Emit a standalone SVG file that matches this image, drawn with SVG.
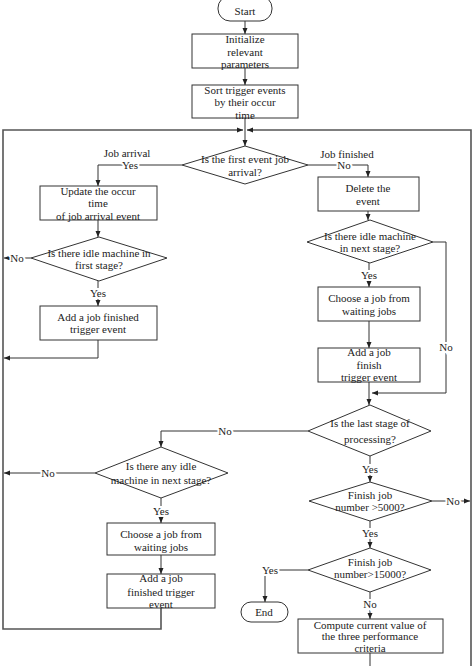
<svg xmlns="http://www.w3.org/2000/svg" width="474" height="666" viewBox="0 0 474 666">
<style>
.b{fill:#fff;stroke:#333;stroke-width:1}
.t{font-family:"Liberation Serif","Times New Roman",serif;font-size:11px;fill:#222;text-anchor:middle}
.l{font-family:"Liberation Serif","Times New Roman",serif;font-size:11px;fill:#222;text-anchor:middle;stroke:#fff;stroke-width:4;paint-order:stroke}
.c{fill:none;stroke:#333;stroke-width:1}
.g{fill:none;stroke:#555;stroke-width:1.6}
</style>
<defs>
<marker id="a" viewBox="0 0 6 6" refX="6" refY="3" markerWidth="6" markerHeight="6" markerUnits="userSpaceOnUse" orient="auto">
<path d="M0,0.5 L6,3 L0,5.5 Z" fill="#222"/>
</marker>
</defs>
<rect width="474" height="666" fill="#fff"/>
<g id="connectors">
<path class="c" d="M245,21 V34" marker-end="url(#a)"/>
<path class="c" d="M245,68 V85" marker-end="url(#a)"/>
<path class="c" d="M245,118 V146" marker-end="url(#a)"/>
<path class="g" d="M161,608 V629 H3 V130 H243" marker-end="url(#a)"/>
<path class="g" d="M471,666 V130 H247" marker-end="url(#a)"/>
<path class="c" d="M370,653 V666"/>
<path class="c" d="M182,165 H98 V186" marker-end="url(#a)"/>
<path class="c" d="M98,220 V237" marker-end="url(#a)"/>
<path class="c" d="M31,258 H4" marker-end="url(#a)"/>
<path class="c" d="M98,281 V306" marker-end="url(#a)"/>
<path class="c" d="M98,340 V358 H4" marker-end="url(#a)"/>
<path class="c" d="M308,165 H368 V177" marker-end="url(#a)"/>
<path class="c" d="M368,211 V220" marker-end="url(#a)"/>
<path class="c" d="M433,242 H446 V393 H372" marker-end="url(#a)"/>
<path class="c" d="M369,263 V287" marker-end="url(#a)"/>
<path class="c" d="M369,321 V348" marker-end="url(#a)"/>
<path class="c" d="M369,382 V405" marker-end="url(#a)"/>
<path class="c" d="M308,431 H161 V447" marker-end="url(#a)"/>
<path class="c" d="M95,473 H4" marker-end="url(#a)"/>
<path class="c" d="M161,498 V523" marker-end="url(#a)"/>
<path class="c" d="M161,555 V574" marker-end="url(#a)"/>
<path class="c" d="M370,456 V482" marker-end="url(#a)"/>
<path class="c" d="M432,501 H470" marker-end="url(#a)"/>
<path class="c" d="M370,521 V548" marker-end="url(#a)"/>
<path class="c" d="M308,570 H265 V602" marker-end="url(#a)"/>
<path class="c" d="M370,592 V619" marker-end="url(#a)"/>
<text class="l" x="127" y="157">Job arrival</text>
<text class="l" x="130" y="169">Yes</text>
<text class="l" x="17" y="262">No</text>
<text class="l" x="98" y="297">Yes</text>
<text class="l" x="347" y="158">Job finished</text>
<text class="l" x="344" y="169">No</text>
<text class="l" x="369" y="279">Yes</text>
<text class="l" x="446" y="351">No</text>
<text class="l" x="225" y="435">No</text>
<text class="l" x="48" y="477">No</text>
<text class="l" x="161" y="515">Yes</text>
<text class="l" x="370" y="473">Yes</text>
<text class="l" x="453" y="505">No</text>
<text class="l" x="370" y="537">Yes</text>
<text class="l" x="270" y="574">Yes</text>
<text class="l" x="370" y="608">No</text>
</g>
<g id="start"><rect class="b" x="218" y="-4" width="54" height="25" rx="12"/><text class="t" x="245" y="15">Start</text></g>
<g id="init"><rect class="b" x="192" y="34" width="106" height="34"/><text class="t" x="245" y="43">Initialize</text><text class="t" x="245" y="56">relevant</text><text class="t" x="245" y="68">parameters</text></g>
<g id="sort"><rect class="b" x="192" y="85" width="106" height="33"/><text class="t" x="245" y="94">Sort trigger events</text><text class="t" x="245" y="106">by their occur</text><text class="t" x="245" y="119">time</text></g>
<g id="d1"><polygon class="b" points="245,146 308,165 245,184 182,165"/><text class="t" x="245" y="163">Is the first event job</text><text class="t" x="245" y="176">arrival?</text></g>
<g id="update"><rect class="b" x="40" y="186" width="117" height="34"/><text class="t" x="98" y="195">Update the occur</text><text class="t" x="98" y="207">time</text><text class="t" x="98" y="220">of job arrival event</text></g>
<g id="d2"><polygon class="b" points="99,237 167,258 99,281 31,258"/><text class="t" x="99" y="257">Is there idle machine in</text><text class="t" x="99" y="269">first stage?</text></g>
<g id="add1"><rect class="b" x="40" y="306" width="117" height="34"/><text class="t" x="98" y="321">Add a job finished</text><text class="t" x="98" y="333">trigger event</text></g>
<g id="delete"><rect class="b" x="318" y="177" width="101" height="34"/><text class="t" x="368" y="192">Delete the</text><text class="t" x="368" y="205">event</text></g>
<g id="d3"><polygon class="b" points="370,220 433,242 370,263 307,242"/><text class="t" x="370" y="240">Is there idle machine</text><text class="t" x="370" y="252">in next stage?</text></g>
<g id="choose1"><rect class="b" x="318" y="287" width="102" height="34"/><text class="t" x="369" y="302">Choose a job from</text><text class="t" x="369" y="315">waiting jobs</text></g>
<g id="add2"><rect class="b" x="318" y="348" width="102" height="34"/><text class="t" x="369" y="356">Add a job</text><text class="t" x="369" y="369">finish</text><text class="t" x="369" y="381">trigger event</text></g>
<g id="d4"><polygon class="b" points="370,405 431,431 370,456 308,431"/><text class="t" x="370" y="427">Is the last stage of</text><text class="t" x="370" y="443">processing?</text></g>
<g id="d5"><polygon class="b" points="161,447 228,473 161,498 95,473"/><text class="t" x="161" y="470">Is there any idle</text><text class="t" x="161" y="484">machine in next stage?</text></g>
<g id="choose2"><rect class="b" x="107" y="523" width="108" height="32"/><text class="t" x="161" y="538">Choose a job from</text><text class="t" x="161" y="551">waiting jobs</text></g>
<g id="add3"><rect class="b" x="107" y="574" width="108" height="34"/><text class="t" x="161" y="582">Add a job</text><text class="t" x="161" y="596">finished trigger</text><text class="t" x="161" y="608">event</text></g>
<g id="d6"><polygon class="b" points="370,482 432,501 370,521 309,501"/><text class="t" x="370" y="499">Finish job</text><text class="t" x="370" y="511">number &gt;5000?</text></g>
<g id="d7"><polygon class="b" points="370,548 431,570 370,592 308,570"/><text class="t" x="370" y="566">Finish job</text><text class="t" x="370" y="578">number&gt;15000?</text></g>
<g id="end"><rect class="b" x="241" y="602" width="47" height="20" rx="10"/><text class="t" x="264" y="616">End</text></g>
<g id="compute"><rect class="b" x="298" y="619" width="145" height="34"/><text class="t" x="370" y="629">Compute current value of</text><text class="t" x="370" y="640">the three performance</text><text class="t" x="370" y="652">criteria</text></g>
</svg>
